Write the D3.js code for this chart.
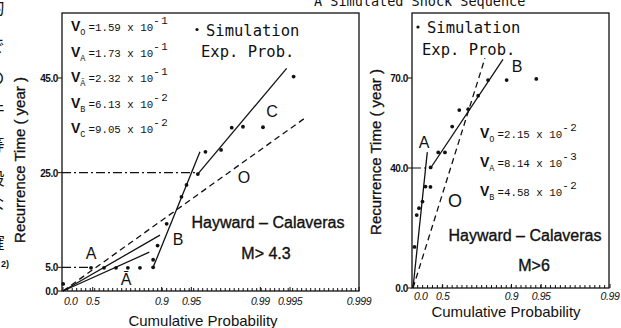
<!DOCTYPE html>
<html><head><meta charset="utf-8">
<script src="https://cdn.jsdelivr.net/npm/d3@7"></script>
<style>
html,body{margin:0;padding:0;background:#fff;}
svg{display:block;}
</style></head><body>
<svg id="chart" width="621" height="328"></svg>
<script>
// ---------------- data ----------------
const probTicks = [0, 0.5, 0.9, 0.95, 0.99, 0.995, 0.999];
const probTickLabels = ["0.0", "0.5", "0.9", "0.95", "0.99", "0.995", "0.999"];
const rightProbTicks = [0, 0.5, 0.9, 0.95, 0.99];
const rightProbTickLabels = ["0.0", "0.5", "0.9", "0.95", "0.99"];
const leftYTicks = [0, 5, 25, 45];
const leftYTickLabels = ["0.0", "5.0", "25.0", "45.0"];
const rightYTicks = [0, 40, 70];
const rightYTickLabels = ["0.0", "40.0", "70.0"];

// simulation points: cumulative probability, recurrence time (year)
const leftSimProb  = [0.004, 0.480, 0.616, 0.710, 0.780, 0.834, 0.878, 0.878, 0.890, 0.911, 0.937, 0.944, 0.957, 0.964, 0.975, 0.9805, 0.985, 0.9906, 0.9954];
const leftSimYears = [1.5, 4.9, 4.9, 4.9, 4.9, 4.9, 5.0, 6.6, 9.6, 14.2, 19.9, 22.4, 24.7, 29.4, 29.8, 34.5, 34.7, 34.6, 45.3];
const rightSimProb  = [0.034, 0.083, 0.131, 0.199, 0.253, 0.335, 0.338, 0.446, 0.526, 0.600, 0.661, 0.725, 0.782, 0.827, 0.888, 0.944];
const rightSimYears = [13.7, 24.3, 26.6, 28.8, 33.8, 33.7, 40.2, 45.2, 45.2, 53.8, 59.3, 59.6, 64.1, 69.3, 69.3, 69.7];

// fitted lines: [probability, years] end points
const leftFitO    = [[0, 0], [0.99661, 36.8]];
const leftFitA    = [[0, 0], [0.896, 11.8]];
const leftFitAbar = [[0, 0], [0.8665, 8.2]];
const leftFitB    = [[0.8785, 5.1], [0.9591, 29.4]];
const leftFitC    = [[0.9569, 24.7], [0.99459, 47.05]];
const leftGuides  = [[5.0, 0.467], [25.0, 0.957]];   // level, probability where guide ends
const rightFitO   = [[0, 0], [0.814, 76.6]];
const rightFitA   = [[0, 0], [0.284, 45.3]];
const rightFitB   = [[0.338, 40.0], [0.878, 76.2]];
const rightGuides = [[40.0, 0.338]];

// rate annotations
const leftRateSubs  = ["O", "A", "Ā", "B", "C"];
const leftRateMant  = ["1.59", "1.73", "2.32", "6.13", "9.05"];
const leftRateExp   = ["-1", "-1", "-1", "-2", "-2"];
const rightRateSubs = ["O", "A", "B"];
const rightRateMant = ["2.15", "8.14", "4.58"];
const rightRateExp  = ["-2", "-3", "-2"];

const sideChars = ["的", "で", "の", "件", "等", "般", "な", "確"];

// ---------------- drawing ----------------
const svg = d3.select("#chart");
const SANS = "'Liberation Sans', Arial, sans-serif";
const MONO = "'Liberation Mono', monospace";
const TYPE = "'DejaVu Sans Mono', monospace";
const INK = "#111";
const u = p => -Math.log(1 - p);   // exponential probability paper

// side text (clipped Japanese column at the page edge)
const sideY = [14, 52, 84, 116, 151, 185, 210, 249];
sideChars.forEach((c, i) => {
  svg.append("text").attr("x", -4).attr("y", sideY[i]).attr("text-anchor", "middle")
    .attr("font-family", "'Noto Sans CJK JP', sans-serif").attr("font-size", 17).attr("fill", INK).text(c);
});
svg.append("text").attr("x", 9).attr("y", 267).attr("text-anchor", "end")
  .attr("font-family", SANS).attr("font-size", 9).attr("font-weight", "bold").attr("fill", INK).text("2)");

// title
svg.append("text").attr("x", 314).attr("y", 6).attr("font-family", TYPE).attr("font-size", 13.5)
  .attr("fill", INK).text("A Simulated Shock Sequence");

function panel(cfg) {
  const g = svg.append("g");
  const x = d3.scaleLinear().domain([0, u(cfg.pMax)]).range([cfg.x0, cfg.x1]);
  const y = d3.scaleLinear().domain([0, cfg.yRef]).range([cfg.yBase, cfg.yRefPx]);
  const X = p => x(u(p));

  // frame
  g.append("rect").attr("x", cfg.fx0).attr("y", cfg.fy0).attr("width", cfg.fx1 - cfg.fx0)
    .attr("height", cfg.yBase - cfg.fy0).attr("fill", "none").attr("stroke", INK).attr("stroke-width", 1.3);

  // minor ticks along bottom
  const uMax = x.invert(cfg.fx1);
  d3.range(0.11, uMax, cfg.minorStep).forEach(v => {
    g.append("line").attr("x1", x(v)).attr("x2", x(v)).attr("y1", cfg.yBase).attr("y2", cfg.yBase - 3)
      .attr("stroke", INK).attr("stroke-width", 1);
  });
  // major x ticks + labels
  cfg.xTicks.forEach((p, i) => {
    g.append("line").attr("x1", X(p)).attr("x2", X(p)).attr("y1", cfg.yBase).attr("y2", cfg.yBase - 4)
      .attr("stroke", INK).attr("stroke-width", 1);
    g.append("text").attr("x", X(p) + (p === 0 ? 1 : 0)).attr("y", cfg.xLabY)
      .attr("text-anchor", p === 0 ? "start" : "middle")
      .attr("font-family", SANS).attr("font-style", "italic").attr("font-size", 10.5)
      .attr("letter-spacing", -0.4).attr("fill", INK).text(cfg.xTickLabels[i]);
  });
  // y ticks + labels
  cfg.yTicks.forEach((v, i) => {
    g.append("line").attr("x1", cfg.fx0 - 4).attr("x2", cfg.fx0).attr("y1", y(v)).attr("y2", y(v))
      .attr("stroke", INK).attr("stroke-width", 1);
    g.append("text").attr("x", cfg.fx0 - 4).attr("y", y(v) + 4).attr("text-anchor", "end")
      .attr("font-family", SANS).attr("font-size", 10).attr("font-weight", "bold")
      .attr("letter-spacing", -0.4).attr("fill", INK).text(cfg.yTickLabels[i]);
  });

  // dash-dot guides
  cfg.guides.forEach(([lev, p]) => {
    g.append("line").attr("x1", cfg.fx0).attr("x2", X(p)).attr("y1", y(lev)).attr("y2", y(lev))
      .attr("stroke", INK).attr("stroke-width", 1.1).attr("stroke-dasharray", "9,3,2,3");
  });

  // fitted lines
  const line = d3.line().x(d => X(d[0])).y(d => y(d[1]));
  cfg.fits.forEach(f => {
    g.append("path").attr("d", line(f.pts)).attr("fill", "none").attr("stroke", INK)
      .attr("stroke-width", 1.3).attr("stroke-dasharray", f.dashed ? "6,4" : null);
  });

  // points
  cfg.simP.forEach((p, i) => {
    g.append("circle").attr("cx", X(p)).attr("cy", y(cfg.simY[i])).attr("r", 1.9).attr("fill", INK);
  });

  // line labels
  cfg.lineLabels.forEach(l => {
    g.append("text").attr("x", l.x).attr("y", l.y).attr("text-anchor", "middle")
      .attr("font-family", SANS).attr("font-size", l.size || 16).attr("fill", INK).text(l.t);
  });

  // legend
  g.append("circle").attr("cx", cfg.legX).attr("cy", cfg.legY - 6).attr("r", 1.6).attr("fill", INK);
  g.append("text").attr("x", cfg.legX + 9).attr("y", cfg.legY).attr("font-family", TYPE)
    .attr("font-size", 15.5).attr("fill", INK).text("Simulation");
  g.append("text").attr("x", cfg.legX + 4).attr("y", cfg.legY + 21.5).attr("font-family", TYPE)
    .attr("font-size", 15.5).attr("fill", INK).text("Exp. Prob.");

  // rates
  cfg.rateSubs.forEach((s, i) => {
    const t = g.append("text").attr("x", cfg.rateX).attr("y", cfg.rateY + i * cfg.rateDY).attr("fill", INK);
    t.append("tspan").attr("font-family", SANS).attr("font-size", 14).attr("font-weight", "bold").text("V");
    t.append("tspan").attr("font-family", MONO).attr("font-size", 8.5).attr("dy", 4).text(s);
    t.append("tspan").attr("font-family", MONO).attr("font-size", 10.8).attr("dy", -4).attr("dx", 3)
      .text("=" + cfg.rateMant[i] + " x 10");
    t.append("tspan").attr("font-family", MONO).attr("font-size", 10.8).attr("dy", -7)
      .attr("letter-spacing", 1.5).text(cfg.rateExp[i]);
  });

  // region label
  g.append("text").attr("x", cfg.hayX).attr("y", cfg.hayY).attr("text-anchor", "middle")
    .attr("font-family", SANS).attr("font-size", 16).attr("fill", INK)
    .attr("stroke", INK).attr("stroke-width", 0.35)
    .text("Hayward – Calaveras");
  g.append("text").attr("x", cfg.magX).attr("y", cfg.magY).attr("text-anchor", "middle")
    .attr("font-family", SANS).attr("font-size", 16).attr("fill", INK)
    .attr("stroke", INK).attr("stroke-width", 0.35)
    .text(cfg.mag);

  // axis titles
  g.append("text").attr("x", cfg.xTitleX).attr("y", cfg.xTitleY).attr("text-anchor", "middle")
    .attr("font-family", SANS).attr("font-size", 15).attr("fill", INK).text("Cumulative Probability");
  g.append("text").attr("transform", `translate(${cfg.yTitleX},${cfg.yTitleY}) rotate(-90)`)
    .attr("text-anchor", "middle").attr("font-family", SANS).attr("font-size", 15)
    .attr("stroke", INK).attr("stroke-width", 0.3)
    .attr("fill", INK).text("Recurrence Time ( year )");
}

panel({
  pMax: 0.999, x0: 63, x1: 359, yRef: 45, yBase: 291, yRefPx: 78,
  fx0: 62, fy0: 13, fx1: 359, minorStep: 0.105,
  xTicks: probTicks, xTickLabels: probTickLabels, xLabY: 305,
  yTicks: leftYTicks, yTickLabels: leftYTickLabels,
  guides: leftGuides,
  fits: [{pts: leftFitO, dashed: true}, {pts: leftFitA}, {pts: leftFitAbar}, {pts: leftFitB}, {pts: leftFitC}],
  simP: leftSimProb, simY: leftSimYears,
  lineLabels: [{t: "A", x: 91, y: 259}, {t: "Ā", x: 126, y: 285}, {t: "B", x: 178, y: 245},
               {t: "C", x: 272, y: 117}, {t: "O", x: 244, y: 183}],
  legX: 197, legY: 35.5,
  rateSubs: leftRateSubs, rateMant: leftRateMant, rateExp: leftRateExp, rateX: 71, rateY: 31, rateDY: 25.6,
  hayX: 268, hayY: 228, mag: "M> 4.3", magX: 266, magY: 259,
  xTitleX: 203, xTitleY: 326, yTitleX: 25, yTitleY: 160
});

panel({
  pMax: 0.99, x0: 413, x1: 610, yRef: 70, yBase: 288, yRefPx: 78,
  fx0: 412, fy0: 13, fx1: 609, minorStep: 0.115,
  xTicks: rightProbTicks, xTickLabels: rightProbTickLabels, xLabY: 300,
  yTicks: rightYTicks, yTickLabels: rightYTickLabels,
  guides: rightGuides,
  fits: [{pts: rightFitO, dashed: true}, {pts: rightFitA}, {pts: rightFitB}],
  simP: rightSimProb, simY: rightSimYears,
  lineLabels: [{t: "A", x: 424, y: 148}, {t: "B", x: 517, y: 72}, {t: "O", x: 455, y: 207, size: 18}],
  legX: 418, legY: 33,
  rateSubs: rightRateSubs, rateMant: rightRateMant, rateExp: rightRateExp, rateX: 480, rateY: 138, rateDY: 29,
  hayX: 525, hayY: 241, mag: "M>6", magX: 534, magY: 271,
  xTitleX: 506, xTitleY: 317, yTitleX: 381, yTitleY: 152
});
</script>
</body></html>
